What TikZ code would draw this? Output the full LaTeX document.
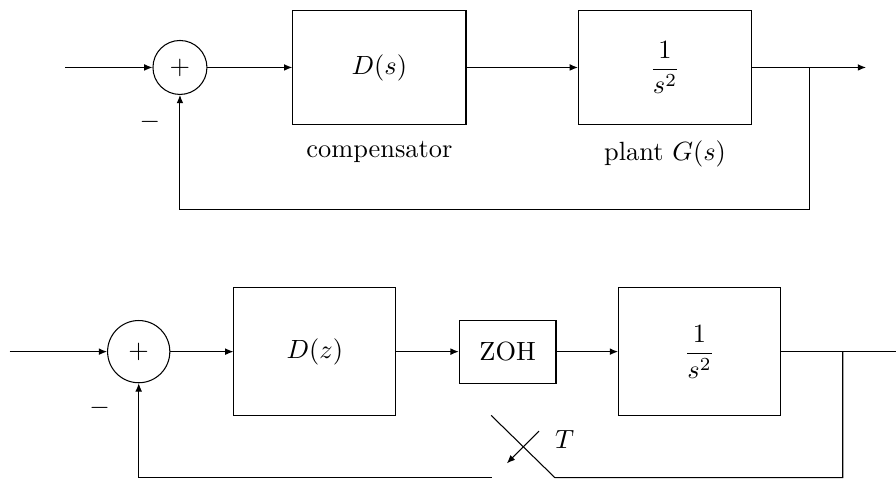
\documentclass[tikz,border=0pt]{standalone}
\usepackage{tikz}
\usetikzlibrary{arrows.meta, positioning, calc}
\usepackage{amsmath}

\begin{document}
\begin{tikzpicture}[
  every node/.style={align=center},
  box/.style={draw, minimum width=2.31cm, minimum height=1.53cm, inner sep=2pt},
  lowbox/.style={box, minimum width=2.16cm, minimum height=1.71cm},
  smallbox/.style={box, minimum width=1.29cm, minimum height=0.84cm},
  sum/.style={draw, circle, minimum size=0.72cm, inner sep=0pt},
  arr/.style={-{Latex[length=1.1mm, width=0.9mm]}},
]
  \useasboundingbox (0,0) rectangle (11.95,6.39);

  \coordinate   (in1)   at (0.87,5.49);
  \node[sum]    (sum1)  at (2.40,5.49)  {$+$};
  \node[box]    (comp)  at (5.06,5.49)  {$D(s)$};
  \node[box]    (plant) at (8.87,5.49)  {$\dfrac{1}{s^2}$};
  \coordinate   (br1)   at (10.79,5.49);
  \coordinate   (out1)  at (11.55,5.49);
  \coordinate   (fb1)   at (10.79,3.60);
  \node         (minus1) at (2.00,4.76) {$-$};
  \node         (complab)  at (5.06,4.36) {compensator};
  \node         (plantlab) at (8.87,4.34) {plant $G(s)$};

  \draw[arr] (in1)   -- (sum1);
  \draw[arr] (sum1)  -- (comp);
  \draw[arr] (comp)  -- (plant);
  \draw[arr] (plant) -- (out1);
  \draw[arr] (br1) -- (fb1) -| (sum1);

  \coordinate      (in2)    at (0.13,1.70);
  \node[sum, minimum size=0.83cm] (sum2) at (1.85,1.70) {$+$};
  \node[lowbox]    (ctrl)   at (4.20,1.70)  {$D(z)$};
  \node[smallbox]  (zoh)    at (6.77,1.70)  {ZOH};
  \node[lowbox]    (plant2) at (9.33,1.70)  {$\dfrac{1}{s^2}$};
  \coordinate      (br2)    at (11.24,1.70);
  \coordinate      (out2)   at (11.95,1.70);
  \coordinate      (fb2)    at (11.24,0.02);
  \coordinate      (swon)   at (7.40,0.02);
  \coordinate      (swup)   at (6.55,0.85);
  \coordinate      (swoff)  at (6.56,0.02);
  \coordinate      (tfrom)  at (7.19,0.64);
  \coordinate      (tto)    at (6.76,0.21);
  \node            (minus2) at (1.33,0.95) {$-$};
  \node            (tlab)   at (7.53,0.53) {$T$};

  \draw[arr] (in2)    -- (sum2);
  \draw[arr] (sum2)   -- (ctrl);
  \draw[arr] (ctrl)   -- (zoh);
  \draw[arr] (zoh)    -- (plant2);
  \draw      (plant2) -- (out2);
  \draw      (br2) -- (fb2) -- (swon) -- (swup);
  \draw[arr] (swoff) -| (sum2);
  \draw[arr] (tfrom) -- (tto);
\end{tikzpicture}
\end{document}
